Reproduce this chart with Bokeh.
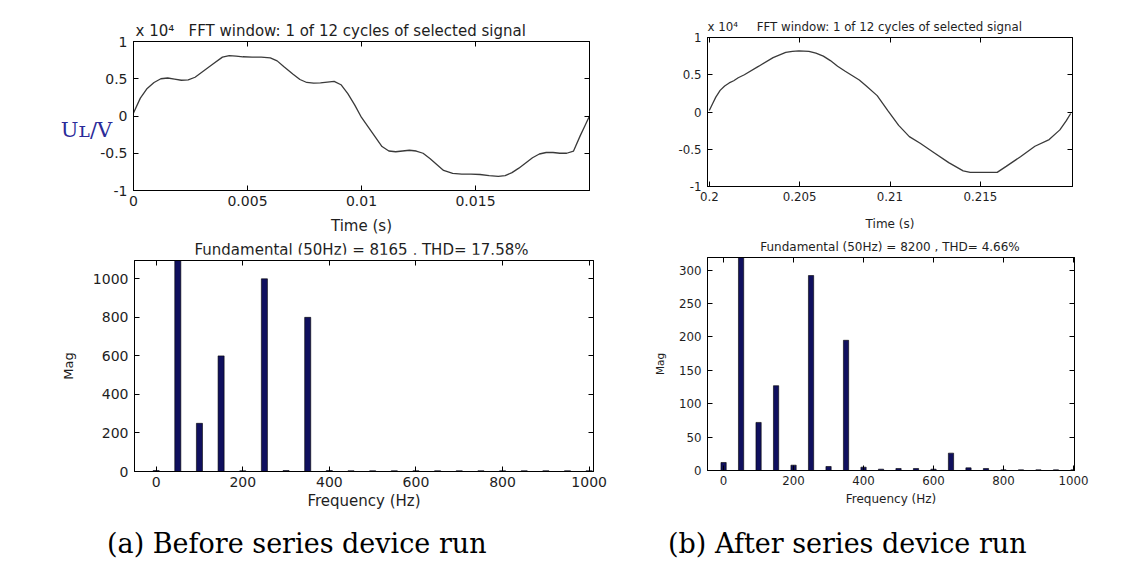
from bokeh.plotting import figure
from bokeh.models import LinearAxis, FixedTicker, Range1d, Div, Title
from bokeh.layouts import row, column
from bokeh.embed import file_html
from bokeh.resources import INLINE

# ---------------- data ----------------
# (a) before: one cycle of load voltage, values in units of 10^4 V
t_before = [0, 0.0003, 0.0006, 0.0009, 0.0012, 0.0015, 0.0018, 0.0021, 0.0024, 0.0027,
            0.0031, 0.0035, 0.0039, 0.0042, 0.0045, 0.0048, 0.0052, 0.0056, 0.006, 0.0063,
            0.0066, 0.007, 0.0073, 0.0076, 0.0079, 0.0082, 0.0085, 0.0088, 0.0091, 0.0094,
            0.0097, 0.01, 0.0103, 0.0106, 0.0109, 0.0112, 0.0115, 0.0118, 0.0121, 0.0124,
            0.0127, 0.013, 0.0133, 0.0136, 0.014, 0.0144, 0.0148, 0.0152, 0.0156, 0.016,
            0.0163, 0.0166, 0.0169, 0.0172, 0.0175, 0.0178, 0.0181, 0.0184, 0.0187, 0.019,
            0.0193, 0.0196, 0.0198, 0.02]
u_before = [0.04, 0.24, 0.37, 0.45, 0.5, 0.51, 0.495, 0.48, 0.485, 0.52,
            0.61, 0.7, 0.79, 0.81, 0.805, 0.795, 0.79, 0.79, 0.78, 0.74,
            0.66, 0.56, 0.49, 0.45, 0.44, 0.445, 0.455, 0.465, 0.42, 0.3,
            0.15, -0.02, -0.15, -0.28, -0.41, -0.47, -0.48, -0.47, -0.46, -0.47,
            -0.5, -0.57, -0.65, -0.73, -0.77, -0.78, -0.78, -0.785, -0.8, -0.81,
            -0.8, -0.76, -0.7, -0.63, -0.56, -0.51, -0.49, -0.49, -0.5, -0.5,
            -0.47, -0.26, -0.13, 0.0]

# (b) after
t_after = [0.2, 0.2002, 0.20036, 0.2006, 0.20085, 0.2011, 0.20135, 0.2016, 0.20194, 0.20274,
           0.20353, 0.20423, 0.2046, 0.20496, 0.20551, 0.2059, 0.20631, 0.2067, 0.2071, 0.2075,
           0.2079, 0.2083, 0.20869, 0.20929, 0.20988, 0.21048, 0.21107, 0.21167, 0.21246, 0.21325,
           0.21405, 0.21444, 0.21504, 0.21593, 0.21643, 0.21722, 0.21802, 0.21881, 0.2194, 0.21975,
           0.22]
u_after = [0.02, 0.12, 0.2, 0.29, 0.35, 0.39, 0.42, 0.46, 0.5, 0.615,
           0.73, 0.8, 0.815, 0.82, 0.815, 0.79, 0.75, 0.69, 0.615, 0.55,
           0.49, 0.43, 0.35, 0.22, 0.02, -0.18, -0.33, -0.42, -0.55, -0.68,
           -0.79, -0.81, -0.81, -0.81, -0.73, -0.6, -0.46, -0.37, -0.24, -0.12,
           -0.02]

freq = [0, 50, 100, 150, 200, 250, 300, 350, 400, 450, 500,
        550, 600, 650, 700, 750, 800, 850, 900, 950, 1000]
mag_before = [5, 8165, 250, 600, 4, 1000, 5, 800, 5, 4, 4,
              4, 4, 4, 4, 4, 4, 4, 4, 4, 4]
mag_after = [12, 8200, 72, 127, 8, 292, 6, 195, 5, 2, 3,
             3, 2, 26, 4, 3, 1, 1, 1, 1, 1]

scale_note = "x 10\u2074"
title_wave = "FFT window: 1 of 12 cycles of selected signal"
title_a = "Fundamental (50Hz) = 8165 , THD= 17.58%"
title_b = "Fundamental (50Hz) = 8200 , THD= 4.66%"
cap_a = "(a) Before series device run"
cap_b = "(b) After series device run"
ylab_wave = "U\u029f/V"

wave_xticks_a = [0, 0.005, 0.01, 0.015]
wave_xlabels_a = {0: "0", 0.005: "0.005", 0.01: "0.01", 0.015: "0.015"}
wave_xticks_b = [0.2, 0.205, 0.21, 0.215]
wave_xlabels_b = {0.2: "0.2", 0.205: "0.205", 0.21: "0.21", 0.215: "0.215"}
wave_yticks = [-1, -0.5, 0, 0.5, 1]
wave_ylabels = {-1: "-1", -0.5: "-0.5", 0: "0", 0.5: "0.5", 1: "1"}
fft_xticks = [0, 200, 400, 600, 800, 1000]
fft_yticks_a = [0, 200, 400, 600, 800, 1000]
fft_yticks_b = [0, 50, 100, 150, 200, 250, 300]

FONT = "DejaVu Sans"
SERIF = "DejaVu Serif"
TXT = "#1e1e1e"
BAR = "#10105e"
NB = "\u00a0"


def make_fig(w, h, l, r, t, b, xr, yr):
    p = figure(width=w, height=h, min_border_left=l, min_border_right=r,
               min_border_top=t, min_border_bottom=b,
               x_range=Range1d(*xr), y_range=Range1d(*yr),
               toolbar_location=None, output_backend="svg")
    p.xgrid.visible = False
    p.ygrid.visible = False
    p.outline_line_color = "black"
    p.outline_line_width = 1
    p.outline_line_alpha = 1
    p.background_fill_color = "white"
    p.border_fill_color = "white"
    return p


def style_axes(p, xt, yt, xo, yo, fs):
    bottom = p.below[0]
    left = p.left[0]
    bottom.ticker = FixedTicker(ticks=xt)
    left.ticker = FixedTicker(ticks=yt)
    if xo:
        bottom.major_label_overrides = xo
    if yo:
        left.major_label_overrides = yo
    top = LinearAxis(ticker=FixedTicker(ticks=xt))
    right = LinearAxis(ticker=FixedTicker(ticks=yt))
    p.add_layout(top, "above")
    p.add_layout(right, "right")
    for ax in (bottom, left, top, right):
        ax.axis_line_color = "black"
        ax.major_tick_line_color = "black"
        ax.major_tick_in = 5
        ax.major_tick_out = 0
        ax.minor_tick_line_color = None
        ax.major_label_text_font = FONT
        ax.major_label_text_color = TXT
        ax.major_label_text_font_size = f"{fs}px"
        ax.axis_label_text_font = FONT
        ax.axis_label_text_font_style = "normal"
        ax.axis_label_text_color = TXT
    for ax in (top, right):
        ax.major_label_text_font_size = "1px"
        ax.major_label_text_color = None
        ax.major_label_standoff = 0
    bottom.major_label_standoff = 5
    left.major_label_standoff = 6
    return bottom, left


def ttl(p, text, size, side, standoff, align="center", offset=0):
    p.add_layout(Title(text=text, text_font=FONT, text_font_size=f"{size}px",
                       text_font_style="normal", text_color=TXT, align=align,
                       offset=offset, standoff=standoff), side)


def caption(text, width, margin):
    html = ('<span style="font-family:\'DejaVu Serif\';font-size:27px;color:#000;'
            'line-height:31px;white-space:nowrap">' + text + '</span>')
    return Div(text=html, width=width, height=33, margin=margin)


# ---------------- (a) waveform ----------------
tl = make_fig(649, 255, 133, 60, 34, 70, (0, 0.02), (-1, 1))
tl.margin = (-5, 0, 0, 0)
tl.line(t_before, u_before, line_color="#3a3a3a", line_width=1.3)
xb, yl = style_axes(tl, wave_xticks_a, wave_yticks, wave_xlabels_a, wave_ylabels, 14)
xb.axis_label = "Time (s)"
xb.axis_label_text_font_size = "15px"
xb.axis_label_standoff = 8
yl.axis_label = "\n" + ylab_wave
yl.axis_label_orientation = "horizontal"
yl.axis_label_text_font = SERIF
yl.axis_label_text_font_size = "21px"
yl.axis_label_text_color = "#2b2b99"
yl.axis_label_standoff = -15
ttl(tl, scale_note + NB * 3 + title_wave, 15, "above", 3, align="left", offset=2)
ttl(tl, title_a, 15, "below", 3)

# ---------------- (b) waveform ----------------
tr = make_fig(443, 255, 58, 20, 34, 70, (0.1999, 0.2201), (-1, 1))
tr.margin = (-9, 0, 0, 0)
tr.line(t_after, u_after, line_color="#3a3a3a", line_width=1.3)
xb, yl = style_axes(tr, wave_xticks_b, wave_yticks, wave_xlabels_b, wave_ylabels, 11.8)
xb.axis_label = "Time (s)"
xb.axis_label_text_font_size = "12px"
xb.axis_label_standoff = 13
ttl(tr, scale_note + NB * 5 + title_wave, 11.8, "above", 8, align="left", offset=0)
ttl(tr, title_b, 12, "below", 9)

# ---------------- (a) spectrum ----------------
bl = make_fig(649, 264, 134, 56, 6, 47, (-50, 1010), (0, 1095))
bl.margin = (-8, 0, 0, 0)
bl.vbar(x=freq, top=mag_before, bottom=0, width=14, fill_color=BAR,
        line_color="black", line_width=0.6)
xb, yl = style_axes(bl, fft_xticks, fft_yticks_a, None, None, 14)
xb.axis_label = "Frequency (Hz)"
xb.axis_label_text_font_size = "15px"
xb.axis_label_standoff = 2
yl.axis_label = "Mag"
yl.axis_label_text_font_size = "13px"
yl.axis_label_standoff = 14

# ---------------- (b) spectrum ----------------
br = make_fig(443, 266, 58, 18, 6, 47, (-46, 1003), (0, 319))
br.margin = (-11, 0, 0, 0)
br.vbar(x=freq, top=mag_after, bottom=0, width=15, fill_color=BAR,
        line_color="black", line_width=0.6)
xb, yl = style_axes(br, fft_xticks, fft_yticks_b, None, None, 11.8)
xb.axis_label = "Frequency (Hz)"
xb.axis_label_text_font_size = "12px"
xb.axis_label_standoff = 4
yl.axis_label = "Mag"
yl.axis_label_text_font_size = "10.5px"
yl.axis_label_standoff = 10

rule = Div(text="", width=567, height=1, margin=(10, 0, 1, 57),
           styles={"background-color": "#b8b8b8"})

caps = row(caption(cap_a, 530, (10, 0, 0, 107)), caption(cap_b, 420, (10, 0, 0, 31)))

layout = column(rule, row(tl, tr), row(bl, br), caps)

open("out.html", "w").write(file_html(layout, INLINE))
